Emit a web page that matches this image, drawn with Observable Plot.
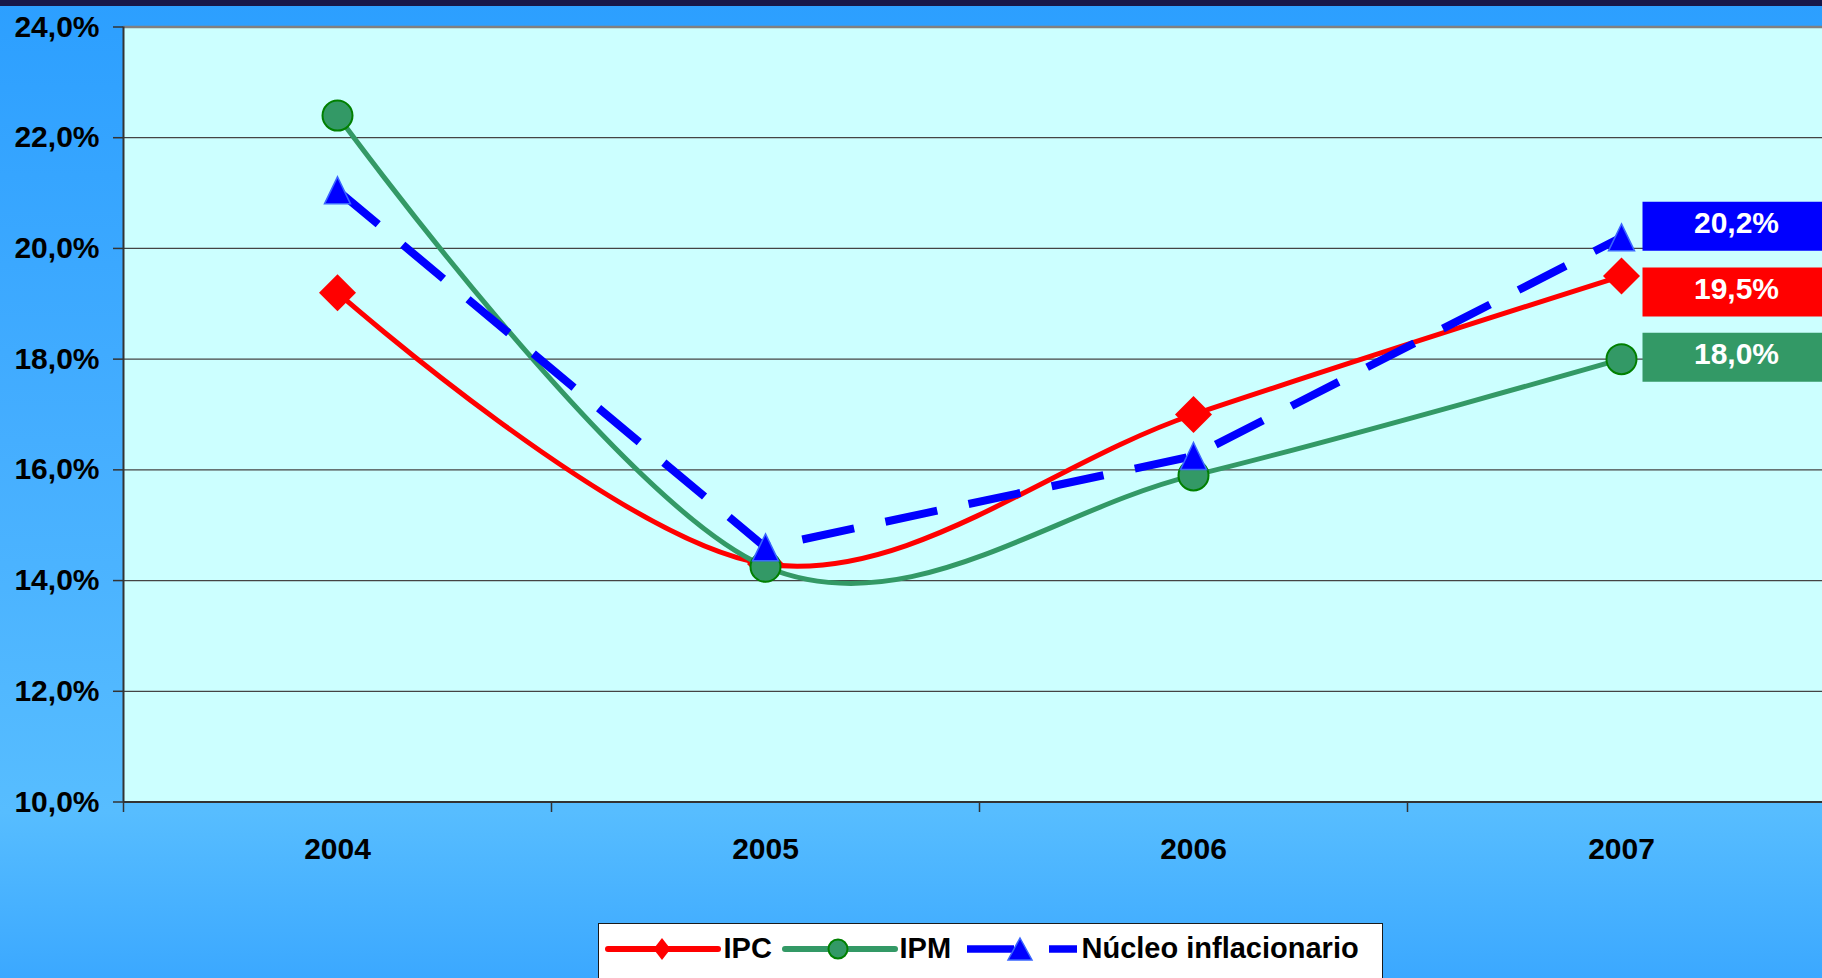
<!DOCTYPE html>
<html>
<head>
<meta charset="utf-8">
<script src="https://cdn.jsdelivr.net/npm/d3@7"></script>
<script src="https://cdn.jsdelivr.net/npm/@observablehq/plot@0.6"></script>
<style>
  html, body { margin: 0; padding: 0; width: 1822px; height: 978px; overflow: hidden; }
  body {
    background: linear-gradient(to bottom, #2c9fff 0%, #45aeff 45%, #57bdff 83%, #3ba8ff 100%);
    font-family: "Liberation Sans", Arial, sans-serif;
  }
  #stripe { height: 6px; background: #181848; }
  #chart { width: 1822px; height: 917px; overflow: hidden; }
  #legend {
    position: relative; margin-left: 598px; width: 785px; height: 80px;
    background: #ffffff; border: 1.5px solid #1a1a1a; box-sizing: border-box;
  }
  #legend span {
    position: absolute; top: 10px; font-size: 29px; line-height: 29px;
    font-weight: bold; color: #000; white-space: nowrap;
  }
  #legend svg { position: absolute; left: -1.5px; top: -1.5px; }
</style>
</head>
<body>
<div id="stripe"></div>
<div id="chart"></div>
<div id="legend"></div>
<script>
// ---- data ----
const years = [2004, 2005, 2006, 2007];
const ipc = [19.2, 14.3, 17.0, 19.5];
const ipm = [22.4, 14.25, 15.9, 18.0];
const nucleo = [21.05, 14.6, 16.25, 20.2];
const seriesNames = ["IPC", "IPM", "Núcleo inflacionario"];
const yTicks = [10, 12, 14, 16, 18, 20, 22, 24];
const categoryBounds = [2003.5, 2004.5, 2005.5, 2006.5, 2007.5];

// ---- styling ----
const RED = "#ff0000", GREEN = "#339966", GREEN_EDGE = "#008000", BLUE = "#0000ff", BLUE_EDGE = "#3a66ff";
const fmt = d => d.toFixed(1).replace(".", ",") + "%";

const rows = years.map((year, i) => ({year, ipc: ipc[i], ipm: ipm[i], nucleo: nucleo[i]}));
const last = [rows[rows.length - 1]];

const diamondSym = {draw(c) { c.moveTo(0, -18.5); c.lineTo(18.5, 0); c.lineTo(0, 18.5); c.lineTo(-18.5, 0); c.closePath(); }};
const triSym = {draw(c) { c.moveTo(0, -13.5); c.lineTo(13, 13.5); c.lineTo(-13, 13.5); c.closePath(); }};
const boxSym = {draw(c) { c.rect(-100, -24.5, 200, 49); }};

function valueLabel(key, color, dy) {
  return [
    Plot.dot(last, {x: "year", y: key, symbol: boxSym, r: 10, fill: color, stroke: "none", dx: 121, dy}),
    Plot.text(last, {x: "year", y: key, text: d => fmt(d[key]), dx: 115, dy: dy - 3, fill: "#ffffff",
      fontSize: 30, fontWeight: "bold", textAnchor: "middle", lineAnchor: "middle"})
  ];
}

const chart = Plot.plot({
  width: 1840,
  height: 917,
  marginLeft: 123,
  marginRight: 5,
  marginTop: 20.5,
  marginBottom: 121.5,
  x: {domain: [2003.5, 2007.5], label: null},
  y: {domain: [10, 24], label: null},
  style: {
    background: "transparent", overflow: "visible", maxWidth: "none",
    fontFamily: '"Liberation Sans", Arial, sans-serif', fontSize: "30px", fontWeight: "bold", color: "#000"
  },
  marks: [
    Plot.frame({fill: "#ccffff", stroke: null}),
    Plot.gridY({ticks: yTicks.slice(1, -1), stroke: "#444444", strokeOpacity: 1, strokeWidth: 1.2}),
    Plot.ruleY([24], {stroke: "#808080", strokeWidth: 2.5}),
    Plot.ruleY([10], {stroke: "#333333", strokeWidth: 2}),
    Plot.ruleX([categoryBounds[0]], {stroke: "#333333", strokeWidth: 2}),
    Plot.axisY({ticks: yTicks, tickSize: 10, tickPadding: 14, tickFormat: fmt, stroke: "#333333",
      strokeWidth: 1.5, fontSize: 30, fontWeight: "bold", label: null}),
    Plot.axisX({ticks: categoryBounds, tickSize: 10.5, tickFormat: () => "", stroke: "#333333",
      strokeWidth: 1.5, label: null}),
    Plot.axisX({ticks: years, tickSize: 0, tickPadding: 35.5, tickFormat: d => String(d),
      fontSize: 30, fontWeight: "bold", label: null}),
    // IPC
    Plot.line(rows, {x: "year", y: "ipc", stroke: RED, strokeWidth: 5, curve: "cardinal", tension: 0}),
    Plot.dot(rows, {x: "year", y: "ipc", symbol: diamondSym, r: 10, fill: RED, stroke: "none"}),
    // IPM
    Plot.line(rows, {x: "year", y: "ipm", stroke: GREEN, strokeWidth: 5, curve: "cardinal", tension: 0}),
    Plot.dot(rows, {x: "year", y: "ipm", r: 15, fill: GREEN, stroke: GREEN_EDGE, strokeWidth: 2}),
    // Núcleo inflacionario
    Plot.line(rows, {x: "year", y: "nucleo", stroke: BLUE, strokeWidth: 8, strokeDasharray: "53,32",
      strokeLinecap: "butt"}),
    Plot.dot(rows, {x: "year", y: "nucleo", symbol: triSym, r: 10, fill: BLUE, stroke: BLUE_EDGE, strokeWidth: 1.5}),
    // value boxes
    ...valueLabel("nucleo", BLUE, -11),
    ...valueLabel("ipc", RED, 16),
    ...valueLabel("ipm", GREEN, -2)
  ]
});
document.getElementById("chart").appendChild(chart);

// ---- legend ----
const legend = document.getElementById("legend");
const ns = "http://www.w3.org/2000/svg";
const svg = document.createElementNS(ns, "svg");
svg.setAttribute("width", 785);
svg.setAttribute("height", 60);
function el(tag, attrs) {
  const e = document.createElementNS(ns, tag);
  for (const k in attrs) e.setAttribute(k, attrs[k]);
  svg.appendChild(e);
  return e;
}
const cy = 26;
// IPC swatch
el("line", {x1: 10, x2: 120, y1: cy, y2: cy, stroke: RED, "stroke-width": 6, "stroke-linecap": "round"});
el("path", {d: `M64,${cy - 11} L72.5,${cy} L64,${cy + 11} L55.5,${cy} Z`, fill: RED});
// IPM swatch
el("line", {x1: 187, x2: 297, y1: cy, y2: cy, stroke: GREEN, "stroke-width": 6, "stroke-linecap": "round"});
el("circle", {cx: 240, cy: cy, r: 9.5, fill: GREEN, stroke: GREEN_EDGE, "stroke-width": 2});
// Núcleo swatch
el("line", {x1: 369, x2: 416, y1: cy, y2: cy, stroke: BLUE, "stroke-width": 7.5});
el("line", {x1: 451, x2: 479, y1: cy, y2: cy, stroke: BLUE, "stroke-width": 7.5});
el("path", {d: `M422,${cy - 11} L434,${cy + 11} L410,${cy + 11} Z`, fill: BLUE, stroke: BLUE_EDGE, "stroke-width": 1.5});
legend.appendChild(svg);

const textLefts = [124.5, 300.5, 482.5];
seriesNames.forEach((name, i) => {
  const s = document.createElement("span");
  s.textContent = name;
  s.style.left = textLefts[i] + "px";
  legend.appendChild(s);
});
</script>
</body>
</html>
